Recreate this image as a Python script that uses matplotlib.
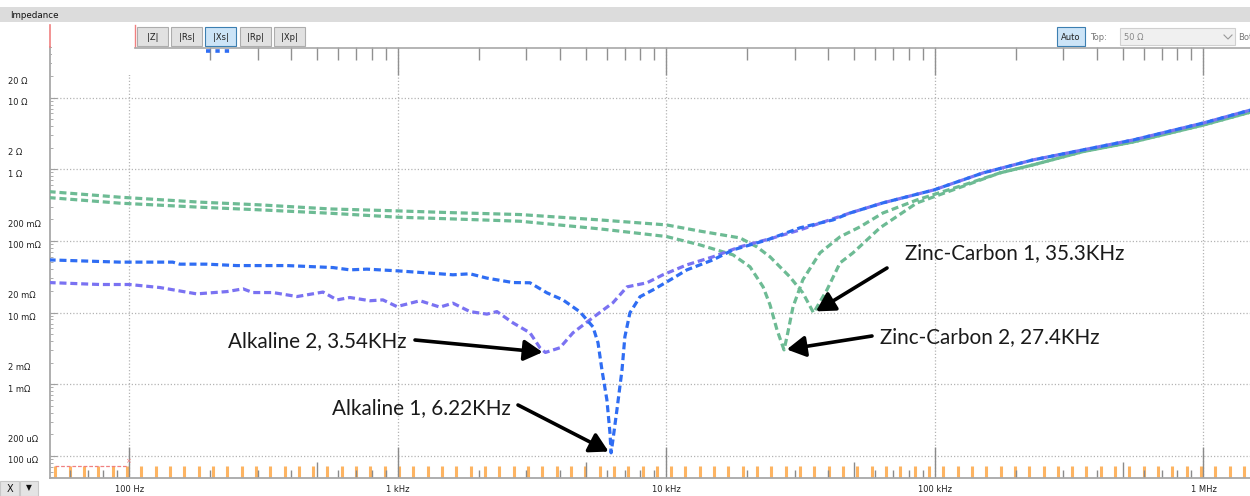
import numpy as np
import matplotlib.pyplot as plt
import matplotlib.transforms as mtransforms
from matplotlib.patches import Rectangle

# |Xs| readings (frequency in Hz, reactance in ohm)
alk1_freq = [50, 92, 145, 154, 194, 251, 386, 573, 662, 766, 991, 1433, 1602, 1854, 2145,
             2680, 3102, 3589, 4117, 4764, 5325, 5560, 5750, 6000, 6160, 6220, 6320, 6540,
             6830, 7000, 7310, 7970, 8910, 10040, 11920, 14900, 17690, 23700, 31400, 41700,
             48300, 64000, 99100, 151000, 231700, 355700, 547000, 1000000, 1500000]
alk1_z = [0.0543, 0.0505, 0.0505, 0.0473, 0.0473, 0.0452, 0.0452, 0.0424, 0.0394, 0.0403,
          0.0382, 0.0347, 0.0336, 0.0347, 0.0302, 0.0262, 0.0260, 0.0188, 0.0150, 0.0102,
          0.0063, 0.00377, 0.00158, 0.000604, 0.000209, 0.000110, 0.000168, 0.00044,
          0.00158, 0.00458, 0.0099, 0.0166, 0.0207, 0.0268, 0.0394, 0.0543, 0.0748, 0.103,
          0.152, 0.196, 0.245, 0.339, 0.514, 0.888, 1.349, 1.86, 2.56, 4.42, 6.71]

alk2_freq = [50, 77.6, 100, 130, 178, 231, 265, 288, 342, 421, 526, 593, 662, 787, 879, 991,
             1208, 1433, 1602, 1854, 2145, 2337, 2680, 3102, 3380, 3540, 4010, 4485, 5188,
             6320, 7130, 8460, 9700, 11920, 14900, 18780, 24950, 31400, 48300, 64000, 99100,
             151000, 231700, 355700, 547000, 1000000, 1500000]
alk2_z = [0.0262, 0.0246, 0.0246, 0.0223, 0.0182, 0.0196, 0.0214, 0.0190, 0.0190, 0.0167,
          0.0193, 0.0150, 0.0162, 0.0146, 0.0150, 0.0121, 0.0146, 0.0119, 0.0135, 0.0103,
          0.0095, 0.0103, 0.00718, 0.00521, 0.00322, 0.00277, 0.00322, 0.00521, 0.0079,
          0.0137, 0.0228, 0.0260, 0.0336, 0.0463, 0.0599, 0.0825, 0.110, 0.142, 0.245,
          0.339, 0.514, 0.888, 1.349, 1.86, 2.56, 4.42, 6.71]

zc1_freq = [50, 92, 183, 306, 558, 1000, 1560, 2850, 5650, 10000, 13300, 18780, 21700,
            24300, 28800, 32200, 35300, 39600, 44300, 49500, 62400, 85700, 131500, 174500,
            231700, 355700, 547000, 1000000, 1500000]
zc1_z = [0.487, 0.407, 0.347, 0.318, 0.279, 0.262, 0.248, 0.233, 0.196, 0.167, 0.137, 0.110,
         0.0826, 0.0599, 0.0315, 0.0188, 0.0099, 0.0207, 0.0493, 0.068, 0.152, 0.339, 0.604,
         0.888, 1.148, 1.76, 2.40, 4.14, 6.28]

zc2_freq = [50, 92, 183, 306, 558, 1000, 1560, 2850, 5650, 10000, 13300, 17690, 20470,
            22900, 24300, 25800, 27400, 28100, 29600, 32200, 37300, 44300, 52600, 64000,
            85700, 131500, 174500, 231700, 355700, 547000, 1000000, 1500000]
zc2_z = [0.402, 0.336, 0.295, 0.271, 0.243, 0.214, 0.203, 0.188, 0.147, 0.115, 0.088, 0.0638,
         0.0434, 0.0228, 0.0128, 0.00573, 0.00301, 0.00457, 0.0120, 0.0286, 0.068, 0.114,
         0.157, 0.245, 0.373, 0.623, 0.888, 1.148, 1.76, 2.40, 4.14, 6.28]

# resonance call-outs: label, freq, value
notes = [("Alkaline 2, 3.54KHz", 3540, 0.00277),
         ("Alkaline 1, 6.22KHz", 6220, 0.000110),
         ("Zinc-Carbon 1, 35.3KHz", 35300, 0.0099),
         ("Zinc-Carbon 2, 27.4KHz", 27400, 0.00301)]

y_ticks = [20, 10, 2, 1, 0.2, 0.1, 0.02, 0.01, 0.002, 0.001, 0.0002, 0.0001]
y_labels = ["20 Ω", "10 Ω", "2 Ω", "1 Ω", "200 mΩ", "100 mΩ", "20 mΩ", "10 mΩ",
            "2 mΩ", "1 mΩ", "200 uΩ", "100 uΩ"]
x_ticks = [100, 1000, 10000, 100000, 1000000]
x_labels = ["100 Hz", "1 kHz", "10 kHz", "100 kHz", "1 MHz"]

buttons = ["|Z|", "|Rs|", "|Xs|", "|Rp|", "|Xp|"]

W, H = 1250, 496
fig = plt.figure(figsize=(W / 100, H / 100), dpi=100)
fig.patch.set_facecolor("white")
# top-left pixel coordinates for the window chrome
px = mtransforms.Affine2D().scale(1 / W, -1 / H).translate(0, 1) + fig.transFigure

ax = fig.add_axes([50 / W, (H - 478) / H, 1 - 50 / W, 431 / H])
ax.set_xscale("log")
ax.set_yscale("log")
ax.set_xlim(50.6, 1.49e6)
ax.set_ylim(4.9e-5, 50.8)

grid_kw = dict(color="#b4b4b4", lw=0.9, ls=(0, (1, 1.6)))
ax.set_yticks([1e-4, 1e-3, 1e-2, 1e-1, 1, 10])
ax.set_xticks(x_ticks)
ax.grid(True, which="major", **grid_kw)
ax.tick_params(axis="y", which="major", direction="in", length=5, color="#a0a0a0",
               labelleft=False)
ax.tick_params(axis="y", which="minor", direction="in", length=2.5, color="#a0a0a0",
               labelleft=False)
ax.tick_params(axis="x", which="major", direction="in", length=20, color="#909090",
               top=True, bottom=False, labelbottom=False, width=1)
ax.tick_params(axis="x", which="minor", direction="in", length=9.5, color="#909090",
               top=True, bottom=False, labelbottom=False, width=1)
for s in ["top", "right"]:
    ax.spines[s].set_visible(False)
for s in ["left", "bottom"]:
    ax.spines[s].set_color("#a8a8a8")
    ax.spines[s].set_linewidth(1.3)

# bottom strip: sweep points (orange) and gray frequency marks
sweep = np.geomspace(53, 1.6e6, 85)
xt = ax.get_xaxis_transform()
ax.vlines(sweep, 0, 0.028, transform=xt, color="#fdb462", lw=2.2, zorder=2)
for dec in [10, 100, 1000, 10000, 100000, 1000000]:
    for m in range(1, 10):
        f = dec * m
        if f < 52 or f > 1.49e6:
            continue
        h = 0.072 if m == 1 else (0.037 if m == 5 else 0.019)
        ax.vlines(f, 0, h, transform=xt, color="#8a8a8a", lw=1, zorder=2)

dash = (0, (2.2, 1.2))
ax.plot(zc2_freq, zc2_z, color="#6dbb94", lw=2.3, ls=dash, zorder=3)
ax.plot(zc1_freq, zc1_z, color="#6dbb94", lw=2.3, ls=dash, zorder=3)
ax.plot(alk2_freq, alk2_z, color="#7a72f2", lw=2.3, ls=dash, zorder=4)
ax.plot(alk1_freq, alk1_z, color="#2f6df3", lw=2.3, ls=dash, zorder=5)

# call-outs
tails = [(415, 340), (518, 405), (887, 268), (872, 336)]
text_pos = [(406, 341, "right"), (511, 408, "right"), (905, 253, "left"), (880, 337, "left")]
for (label, f, z), tail, (tx, ty, ha) in zip(notes, tails, text_pos):
    ax.annotate("", xy=(f, z), xycoords="data", xytext=tail, textcoords=px,
                arrowprops=dict(arrowstyle="-|>,head_length=0.8,head_width=0.45",
                                mutation_scale=14, lw=2.6, color="black",
                                shrinkA=0, shrinkB=2), zorder=6)
    fig.text(tx, ty, label, transform=px, ha=ha, va="center", fontsize=14.9,
             family="Lato", color="#1a1a1a")

# axis labels drawn like the analyzer does (left-aligned, slightly below the value)
for v, lab in zip(y_ticks, y_labels):
    ax.annotate(lab, xy=(8, v), xycoords=("figure pixels", "data"), xytext=(0, -3.6),
                textcoords="offset points", ha="left", va="center", fontsize=6,
                color="#222222")
for v, lab in zip(x_ticks, x_labels):
    ax.annotate(lab, xy=(v, 7), xycoords=("data", "figure pixels"), ha="center",
                va="center", fontsize=6, color="#222222")

# ---- window chrome ----
# no scale ticks are drawn under the empty strip left of the buttons
fig.add_artist(Rectangle((51.5, 46), 83, 29, transform=px, facecolor="white",
                         edgecolor="none"))
fig.add_artist(Rectangle((0, 7), W, 15, transform=px, facecolor="#dcdcdc", edgecolor="none"))
fig.text(10, 15, "Impedance", transform=px, ha="left", va="center", fontsize=6.3,
         color="#111111")
fig.add_artist(plt.Line2D([50, 50], [25, 47], transform=px, color="#f08080", lw=1.2))
fig.add_artist(plt.Line2D([135, 135], [25, 47], transform=px, color="#f08080", lw=1))
fig.add_artist(plt.Line2D([135, W], [47.5, 47.5], transform=px, color="#a8a8a8", lw=1.2))

bx = [137, 171, 205, 240, 274]
for x0, lab in zip(bx, buttons):
    sel = lab == "|Xs|"
    fig.add_artist(Rectangle((x0, 27), 31, 19, transform=px,
                             facecolor="#cce4f7" if sel else "#e1e1e1",
                             edgecolor="#3c7fb1" if sel else "#adadad", lw=0.8))
    fig.text(x0 + 15.5, 37, lab, transform=px, ha="center", va="center", fontsize=6,
             color="#222222")
fig.add_artist(plt.Line2D([206, 232], [50.5, 50.5], transform=px, color="#2f6df3",
                          lw=2.6, ls=(0, (1.2, 1.4))))

fig.add_artist(Rectangle((1057, 27), 28, 19, transform=px, facecolor="#cce4f7",
                         edgecolor="#3c7fb1", lw=0.8))
fig.text(1071, 37, "Auto", transform=px, ha="center", va="center", fontsize=6,
         color="#222222")
fig.text(1090, 37, "Top:", transform=px, ha="left", va="center", fontsize=6,
         color="#777777")
fig.add_artist(Rectangle((1120, 28), 115, 17, transform=px, facecolor="#f0f0f0",
                         edgecolor="#d0d0d0", lw=0.8))
fig.text(1124, 37, "50 Ω", transform=px, ha="left", va="center", fontsize=6,
         color="#888888")
fig.add_artist(plt.Line2D([1224, 1228, 1232], [35, 39, 35], transform=px, color="#999999",
                          lw=0.8))
fig.text(1238, 37, "Bot", transform=px, ha="left", va="center", fontsize=6,
         color="#777777")

# red marker trace at the lower left
fig.add_artist(plt.Line2D([55, 128], [465.5, 465.5], transform=px, color="#f08080", lw=0.9,
                          ls=(0, (3, 1.5))))
fig.text(128, 461, "×", transform=px, ha="center", va="center", fontsize=5, color="#f08080")

# X dropdown at the lower left
fig.add_artist(Rectangle((0, 481), 19, 15, transform=px, facecolor="#e4e4e4",
                         edgecolor="#c8c8c8", lw=0.8))
fig.add_artist(Rectangle((20, 481), 18, 15, transform=px, facecolor="#e4e4e4",
                         edgecolor="#c8c8c8", lw=0.8))
fig.text(10, 489, "X", transform=px, ha="center", va="center", fontsize=7, color="#111111")
fig.text(29, 488, "▼", transform=px, ha="center", va="center", fontsize=5.5, color="#111111")

fig.savefig("out.png", dpi=100)
